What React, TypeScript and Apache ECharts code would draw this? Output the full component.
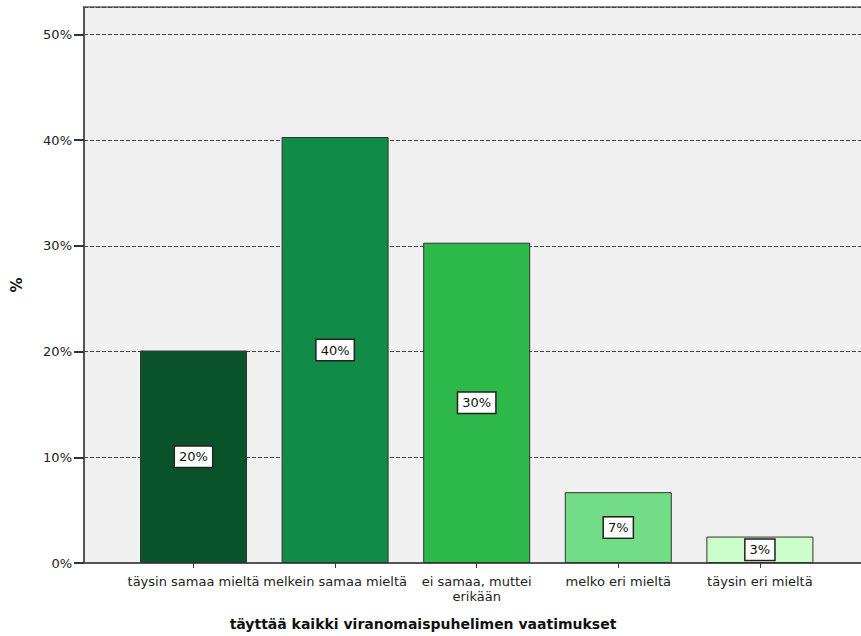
import React, { useEffect, useRef } from "react";
import * as echarts from "echarts";

const categories = [
  "täysin samaa mieltä",
  "melkein samaa mieltä",
  "ei samaa, muttei\nerikään",
  "melko eri mieltä",
  "täysin eri mieltä",
];
const percents = [20.1, 40.3, 30.3, 6.7, 2.5];
const barColors = ["#0a5229", "#108c48", "#2db84a", "#72dc86", "#ccfecb"];
const xTitle = "täyttää kaikki viranomaispuhelimen vaatimukset";
const yTitle = "%";

const FONT = "DejaVu Sans";
const CHART_W = 880;

export default function App() {
  const ref = useRef<HTMLDivElement>(null);
  useEffect(() => {
    if (!ref.current) return;
    const chart = echarts.init(ref.current, undefined, { renderer: "svg" });
    const yMax = 52.6;
    chart.setOption({
      animation: false,
      backgroundColor: "#ffffff",
      textStyle: { fontFamily: FONT },
      grid: [
        {
          left: 84,
          top: 7,
          right: CHART_W - 868.5,
          bottom: 73,
          show: true,
          backgroundColor: "#f0f0f0",
          borderColor: "#888888",
          borderWidth: 2,
        },
        { left: 122.7, right: CHART_W - 830.7, top: 7, bottom: 73 },
      ],
      xAxis: [
        {
          gridIndex: 0,
          type: "value",
          min: 0,
          max: 1,
          axisLine: { show: true, lineStyle: { color: "#555555", width: 2 } },
          axisTick: { show: false },
          axisLabel: { show: false },
          splitLine: { show: false },
        },
        {
          gridIndex: 1,
          type: "category",
          data: categories,
          axisLine: { show: false },
          axisTick: { show: true, alignWithLabel: true, length: 5, lineStyle: { color: "#333333", width: 1 } },
          axisLabel: {
            interval: 0,
            margin: 11,
            fontFamily: FONT,
            fontSize: 13,
            lineHeight: 15,
            color: "#222222",
          },
        },
      ],
      yAxis: [
        {
          gridIndex: 0,
          type: "value",
          min: 0,
          max: yMax,
          interval: 10,
          name: yTitle,
          nameLocation: "middle",
          nameRotate: 90,
          nameGap: 60,
          nameTextStyle: { fontFamily: FONT, fontWeight: "bold", fontSize: 15, color: "#111111" },
          axisLine: { show: true, lineStyle: { color: "#555555", width: 2 } },
          axisTick: { show: true, inside: false, length: 10, lineStyle: { color: "#333333", width: 2 } },
          axisLabel: {
            formatter: (v: number) => (v % 10 === 0 ? `${v}%` : ""),
            margin: 12,
            fontFamily: FONT,
            fontSize: 13,
            color: "#222222",
            showMaxLabel: false,
          },
          splitLine: { show: true, lineStyle: { color: "#444444", type: [4, 2], width: 1 } },
        },
        {
          gridIndex: 1,
          type: "value",
          min: 0,
          max: yMax,
          show: false,
          splitLine: { show: false },
        },
      ],
      series: [
        {
          type: "bar",
          xAxisIndex: 1,
          yAxisIndex: 1,
          barWidth: 107,
          data: percents.map((v, i) => ({
            value: v,
            itemStyle: { color: barColors[i], borderColor: "#333333", borderWidth: 1 },
          })),
          label: {
            show: true,
            position: "inside",
            formatter: (p: any) => `${Math.round(p.value)}%`,
            fontFamily: FONT,
            fontSize: 13,
            color: "#111111",
            backgroundColor: "#ffffff",
            borderColor: "#222222",
            borderWidth: 1.5,
            padding: [4, 4, 3, 4],
          },
        },
      ],
      graphic: [
        {
          type: "text",
          x: 423,
          y: 624,
          style: {
            text: xTitle,
            font: `bold 14px "${FONT}"`,
            fill: "#111111",
            textAlign: "center",
            textVerticalAlign: "middle",
          },
        },
      ],
    });
    return () => chart.dispose();
  }, []);
  return (
    <div style={{ position: "fixed", left: 0, top: 0, width: 861, height: 636, overflow: "hidden" }}>
      <div ref={ref} style={{ width: CHART_W, height: 636 }} />
    </div>
  );
}
